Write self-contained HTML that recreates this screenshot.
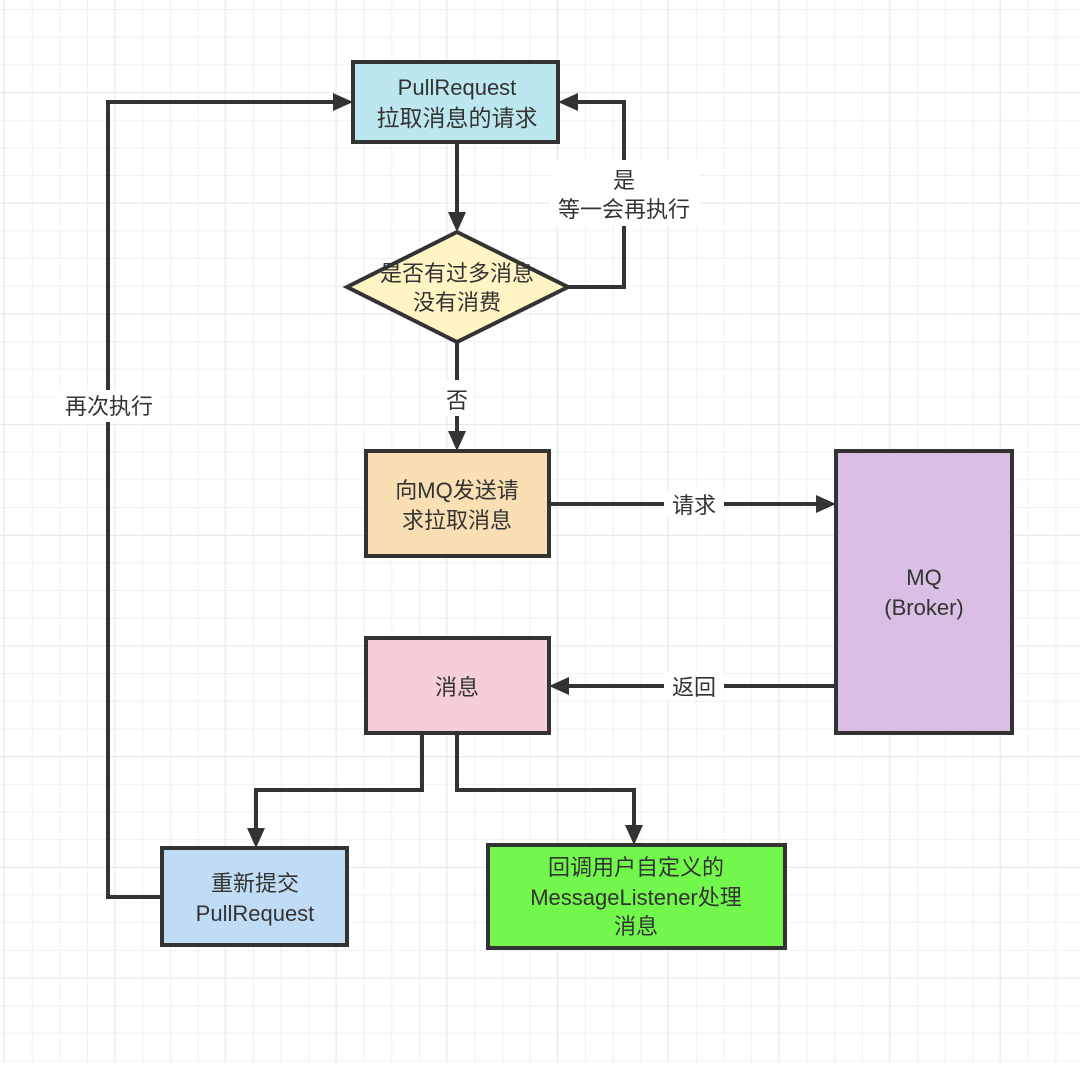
<!DOCTYPE html>
<html><head><meta charset="utf-8"><style>
html,body{margin:0;padding:0;background:#fff}
svg text{font-family:"Liberation Sans","Noto Sans CJK SC",sans-serif;font-size:22px;fill:#333;text-anchor:middle}
svg text.c{font-size:23px}
</style></head><body>
<svg width="1080" height="1063" viewBox="0 0 1080 1063" xmlns="http://www.w3.org/2000/svg">
<defs>
<pattern id="g" x="4" y="9" width="27.67" height="27.67" patternUnits="userSpaceOnUse">
<path d="M0 0H27.67M0 0V27.67" stroke="#f0f0f0" stroke-width="2" fill="none"/>
</pattern>
<pattern id="G" x="4" y="92" width="110.7" height="110.7" patternUnits="userSpaceOnUse">
<path d="M111 0H0M111 0V111" stroke="#e8e8e8" stroke-width="2" fill="none"/>
</pattern>
</defs>
<rect width="1080" height="1063" fill="url(#g)"/>
<rect width="1080" height="1063" fill="url(#G)"/>
<g stroke="#333" stroke-width="4" fill="none">
<polyline points="162,897 108,897 108,102 336,102"/>
<polyline points="568,287 624,287 624,102 575,102"/>
<line x1="457" y1="142" x2="457" y2="214"/>
<line x1="457" y1="342" x2="457" y2="433"/>
<line x1="549" y1="504" x2="818" y2="504"/>
<line x1="836" y1="686" x2="567" y2="686"/>
<polyline points="422,733 422,790 256,790 256,830"/>
<polyline points="457,733 457,790 634,790 634,827"/>
</g>
<g fill="#333">
<polygon points="353,102 333,93 333,111"/>
<polygon points="558,102 578,93 578,111"/>
<polygon points="457,232 448,212 466,212"/>
<polygon points="457,451 448,431 466,431"/>
<polygon points="836,504 816,495 816,513"/>
<polygon points="549,686 569,677 569,695"/>
<polygon points="256,848 247,828 265,828"/>
<polygon points="634,845 625,825 643,825"/>
</g>
<g stroke="#333" stroke-width="4">
<rect x="353" y="62" width="205" height="80" fill="#bde7ee"/>
<polygon points="457,232 568,287 457,342 347,287" fill="#fff4c4"/>
<rect x="366" y="451" width="183" height="105" fill="#f9dfb3"/>
<rect x="836" y="451" width="176" height="282" fill="#d9bfe3"/>
<rect x="366" y="638" width="183" height="95" fill="#f5cfd5"/>
<rect x="162" y="848" width="185" height="97" fill="#c0dcf5"/>
<rect x="488" y="845" width="297" height="103" fill="#72f74d"/>
</g>
<g fill="#fff">
<rect x="550" y="160" width="150" height="66"/>
<rect x="440" y="380" width="34" height="36"/>
<rect x="664" y="490" width="60" height="28"/>
<rect x="664" y="672" width="60" height="28"/>
<rect x="55" y="390" width="106" height="32"/>
</g>
<text x="457" y="95">PullRequest</text>
<text class="c" x="457" y="126">拉取消息的请求</text>
<text x="624" y="188">是</text>
<text x="624" y="217">等一会再执行</text>
<text x="457" y="281">是否有过多消息</text>
<text x="457" y="310">没有消费</text>
<text x="457" y="408">否</text>
<text x="457" y="498">向MQ发送请</text>
<text x="457" y="528">求拉取消息</text>
<text x="694" y="513">请求</text>
<text x="694" y="695">返回</text>
<text x="924" y="585">MQ</text>
<text x="924" y="615">(Broker)</text>
<text x="457" y="695">消息</text>
<text x="109" y="414">再次执行</text>
<text x="255" y="891">重新提交</text>
<text x="255" y="921">PullRequest</text>
<text x="636" y="875">回调用户自定义的</text>
<text x="636" y="905">MessageListener处理</text>
<text x="636" y="934">消息</text>
</svg>
</body></html>
